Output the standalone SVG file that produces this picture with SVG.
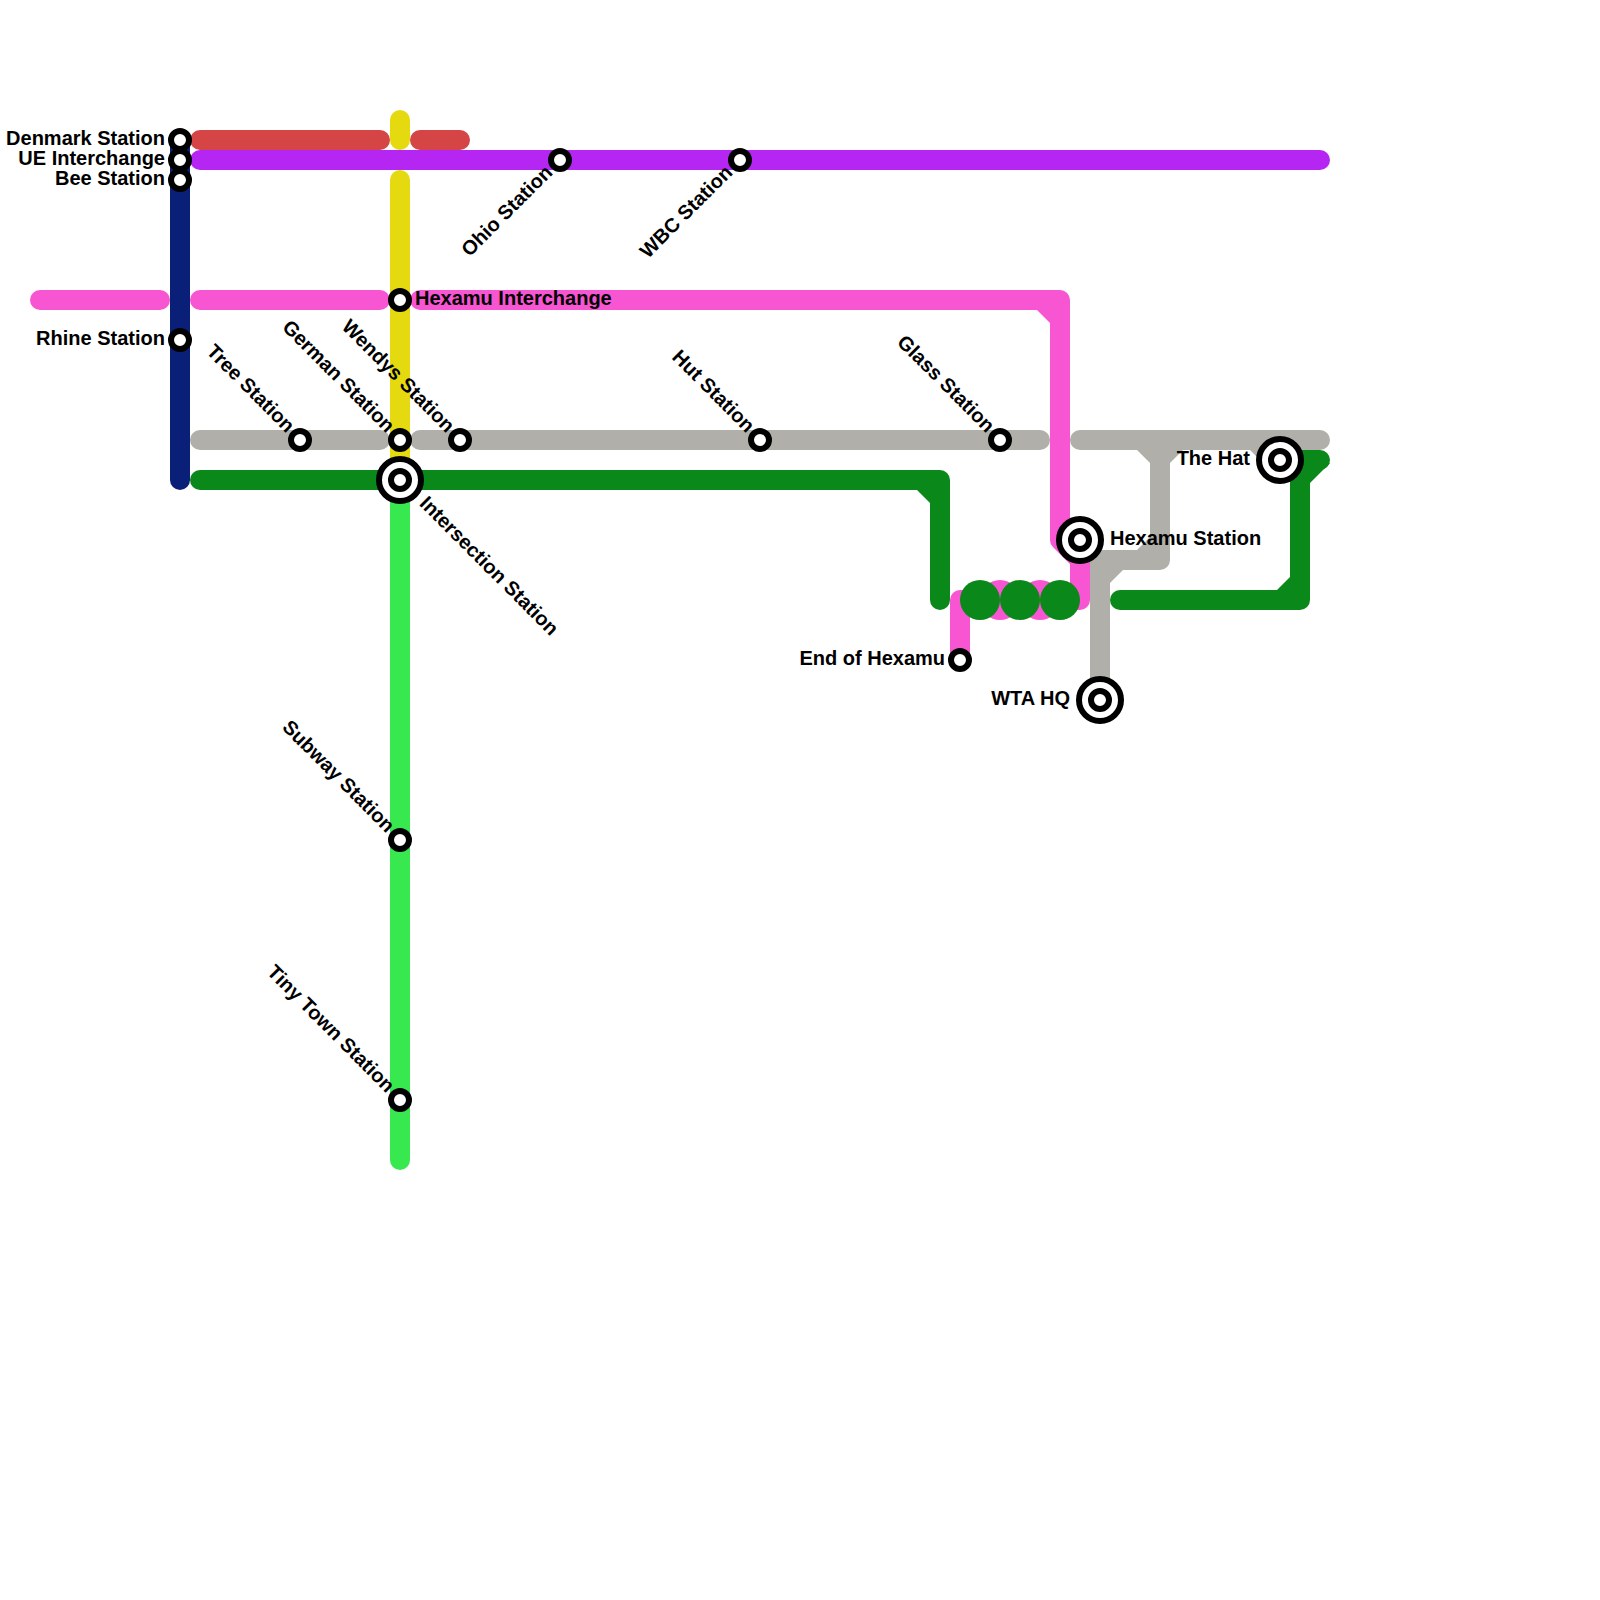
<svg xmlns="http://www.w3.org/2000/svg" width="1600" height="1600" viewBox="0 0 1600 1600">
<style>
.l{fill:none;stroke-width:20;stroke-linecap:round;stroke-linejoin:round}
.t{font-family:"Liberation Sans",Arial,sans-serif;font-weight:bold;font-size:20px;fill:#000}
.e{text-anchor:end}
.o{fill:#fff;stroke:#000;stroke-width:6}
.pk{stroke:#f855d3}.pkf{fill:#f855d3}
.gy{stroke:#b0afa9}.gyf{fill:#b0afa9}
.gn{stroke:#0b881a}.gnf{fill:#0b881a}
</style>
<defs>
<g id="s"><circle r="9" class="o"/></g>
<g id="b"><circle r="21" class="o"/><circle r="9" class="o"/></g>
</defs>
<g id="connectors">
<path class="l" stroke="#0a1f78" d="M180 140V480"/>
<path class="l" stroke="#d64545" d="M200 140H380M420 140H460"/>
<path class="l" stroke="#e5da10" d="M400 120V140M400 180V470"/>
<path class="l" stroke="#b526f2" d="M200 160H1320"/>
<path class="l" stroke="#38e84f" d="M400 490V1160"/>
<path class="l pk" d="M40 300H160M200 300H380M420 300H1060V540L1080 560V600H960V660"/>
<polygon class="pkf" points="1037,310 1050,323 1050,310"/>
<circle class="pkf" cx="1000" cy="600" r="20"/><circle class="pkf" cx="1040" cy="600" r="20"/>
<path class="l gy" d="M200 440H380M420 440H1040M1080 440H1320"/>
<path class="l gy" d="M1160 440V560H1100V700"/>
<polygon class="gyf" points="1137,450 1150,463 1170,463 1183,450"/>
<polygon class="gyf" points="1137,550 1150,537 1150,550"/>
<polygon class="gyf" points="1110,583 1123,570 1110,570"/>
<polygon class="gyf" points="1250,450 1270,470 1270,450"/>
<path class="l gn" d="M200 480H940V600M1120 600H1300V460H1320"/>
<polygon class="gnf" points="917,490 930,503 930,490"/>
<polygon class="gnf" points="1277,590 1290,577 1290,590"/>
<polygon class="gnf" points="1310,483 1330,463 1310,463"/>
<circle class="gnf" cx="980" cy="600" r="20"/><circle class="gnf" cx="1020" cy="600" r="20"/><circle class="gnf" cx="1060" cy="600" r="20"/>
</g>
<g id="denmark"><use href="#s" x="180" y="140"/><text class="t e" x="165" y="145">Denmark Station</text></g>
<g id="ue"><use href="#s" x="180" y="160"/><text class="t e" x="165" y="165">UE Interchange</text></g>
<g id="bee"><use href="#s" x="180" y="180"/><text class="t e" x="165" y="185">Bee Station</text></g>
<g id="rhine"><use href="#s" x="180" y="340"/><text class="t e" x="165" y="345">Rhine Station</text></g>
<g id="hexint"><use href="#s" x="400" y="300"/><text class="t" x="415" y="305">Hexamu Interchange</text></g>
<g id="tree"><use href="#s" x="300" y="440"/><text class="t e" transform="translate(290,430) rotate(45)" x="0" y="5">Tree Station</text></g>
<g id="german"><use href="#s" x="400" y="440"/><text class="t e" transform="translate(390,430) rotate(45)" x="0" y="5">German Station</text></g>
<g id="wendys"><use href="#s" x="460" y="440"/><text class="t e" transform="translate(450,430) rotate(45)" x="0" y="5">Wendys Station</text></g>
<g id="ohio"><use href="#s" x="560" y="160"/><text class="t e" transform="translate(550,170) rotate(-45)" x="0" y="5">Ohio Station</text></g>
<g id="wbc"><use href="#s" x="740" y="160"/><text class="t e" transform="translate(730,170) rotate(-45)" x="0" y="5">WBC Station</text></g>
<g id="hut"><use href="#s" x="760" y="440"/><text class="t e" transform="translate(750,430) rotate(45)" x="0" y="5">Hut Station</text></g>
<g id="glass"><use href="#s" x="1000" y="440"/><text class="t e" transform="translate(990,430) rotate(45)" x="0" y="5">Glass Station</text></g>
<g id="intersection"><use href="#b" x="400" y="480"/><text class="t" transform="translate(422,501) rotate(45)" x="0" y="5">Intersection Station</text></g>
<g id="subway"><use href="#s" x="400" y="840"/><text class="t e" transform="translate(390,830) rotate(45)" x="0" y="5">Subway Station</text></g>
<g id="tiny"><use href="#s" x="400" y="1100"/><text class="t e" transform="translate(390,1090) rotate(45)" x="0" y="5">Tiny Town Station</text></g>
<g id="end"><use href="#s" x="960" y="660"/><text class="t e" x="945" y="665">End of Hexamu</text></g>
<g id="hexamu"><use href="#b" x="1080" y="540"/><text class="t" x="1110" y="545">Hexamu Station</text></g>
<g id="wta"><use href="#b" x="1100" y="700"/><text class="t e" x="1070" y="705">WTA HQ</text></g>
<g id="hat"><use href="#b" x="1280" y="460"/><text class="t e" x="1250" y="465">The Hat</text></g>
</svg>
